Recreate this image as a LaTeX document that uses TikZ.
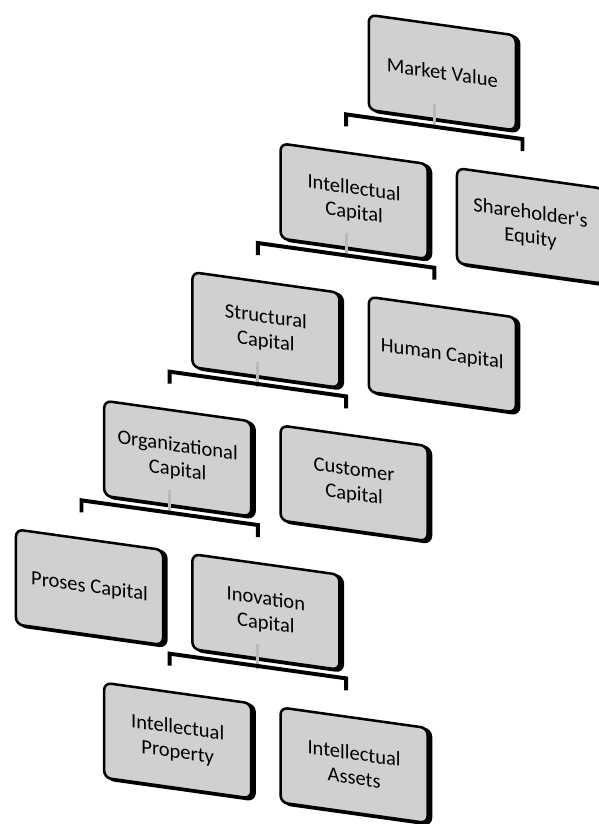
\documentclass[tikz,border=0pt]{standalone}
\usepackage{fontspec}
\setmainfont{Carlito}
\usetikzlibrary{calc}
\definecolor{boxgray}{RGB}{208,208,208}
\definecolor{stubgray}{RGB}{185,185,185}

\begin{document}
\begin{tikzpicture}[x=0.025cm, y=0.025cm,
  box/.style={draw=black, line width=1.8pt, rounded corners=5pt, fill=boxgray, align=center,
    minimum width=3.675cm, minimum height=2.375cm, inner sep=2pt, transform shape,
    font=\fontsize{14.6}{17.4}\selectfont,
    preaction={fill=black, draw=black, line width=1.8pt, transform canvas={shift={(2.4pt,-1.2pt)}}}},
  brk/.style={line width=2.8pt},
  stub/.style={draw=stubgray, line width=2pt}]
  \useasboundingbox (0,0) rectangle (599,-824);
  \begin{scope}[yslant=-0.14]
  % boxes
  \node[box] (MV) at (442.3,-10.7) {Market Value};
  \node[box] (IC) at (354.1,-151.7) {Intellectual\\Capital};
  \node[box] (SE) at (530.5,-151.7) {Shareholder\textquotesingle s\\Equity};
  \node[box] (SC) at (265.9,-292.7) {Structural\\Capital};
  \node[box] (HC) at (442.3,-292.7) {Human Capital};
  \node[box] (OC) at (177.7,-433.7) {Organizational\\Capital};
  \node[box] (CC) at (354.1,-433.7) {Customer\\Capital};
  \node[box] (PC) at (89.5,-574.7) {Proses Capital};
  \node[box] (InC) at (265.9,-574.7) {Inovation\\Capital};
  \node[box] (IP) at (177.7,-715.7) {Intellectual\\Property};
  \node[box] (IA) at (354.1,-715.7) {Intellectual\\Assets};
  % stubs
  \draw[stub] ($(MV.south)+(-8,16)$) -- ($(MV.south)+(-8,-9)$);
  \draw[stub] ($(IC.south)+(-8,16)$) -- ($(IC.south)+(-8,-9)$);
  \draw[stub] ($(SC.south)+(-8,16)$) -- ($(SC.south)+(-8,-9)$);
  \draw[stub] ($(OC.south)+(-8,16)$) -- ($(OC.south)+(-8,-9)$);
  \draw[stub] ($(InC.south)+(-8,16)$) -- ($(InC.south)+(-8,-9)$);
  % brackets
  \draw[brk] ($(IC.north)+(-8,25)$) -- ($(IC.north)+(-8,37)$) -- ($(SE.north)+(-8,37)$) -- ($(SE.north)+(-8,25)$);
  \draw[brk] ($(SC.north)+(-8,25)$) -- ($(SC.north)+(-8,37)$) -- ($(HC.north)+(-8,37)$) -- ($(HC.north)+(-8,25)$);
  \draw[brk] ($(OC.north)+(-8,25)$) -- ($(OC.north)+(-8,37)$) -- ($(CC.north)+(-8,37)$) -- ($(CC.north)+(-8,25)$);
  \draw[brk] ($(PC.north)+(-8,25)$) -- ($(PC.north)+(-8,37)$) -- ($(InC.north)+(-8,37)$) -- ($(InC.north)+(-8,25)$);
  \draw[brk] ($(IP.north)+(-8,25)$) -- ($(IP.north)+(-8,37)$) -- ($(IA.north)+(-8,37)$) -- ($(IA.north)+(-8,25)$);
  \end{scope}
\end{tikzpicture}
\end{document}
